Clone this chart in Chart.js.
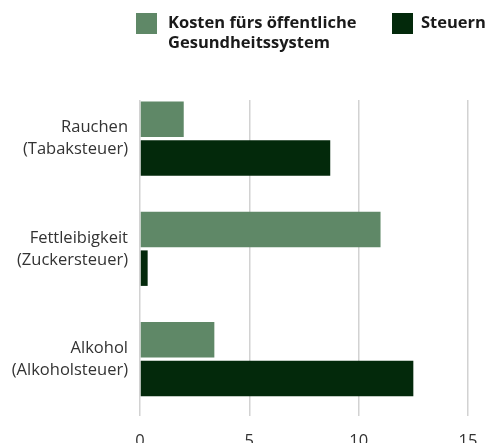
<!DOCTYPE html>
<html>
<head>
<meta charset="utf-8">
<script src="https://cdn.jsdelivr.net/npm/chart.js@4"></script>
<style>
    html, body { margin: 0; padding: 0; overflow: hidden; background: #fff; }
    #wrap { width: 486px; height: 460px; }
</style>
</head>
<body>
<div id="wrap"><canvas id="chart"></canvas></div>
<script>
// data
var categories = [["Rauchen", "(Tabaksteuer)"], ["Fettleibigkeit", "(Zuckersteuer)"], ["Alkohol", "(Alkoholsteuer)"]];
var seriesNames = [["Kosten fürs öffentliche", "Gesundheitssystem"], ["Steuern"]];
var kosten = [2.0, 11.0, 3.4];
var steuern = [8.7, 0.35, 12.5];
var xTicks = [0, 5, 10, 15];

const COLOR_KOSTEN = "#5f8867";
const COLOR_STEUERN = "#03290b";
const LEGEND_BOX_X = [136, 392];
const LEGEND_TEXT_X = [168, 421];
const LEGEND_BOX = 21;

// legend drawn by hand, the built-in one can't do a two line label next to a second item
var legendPlugin = {
    id: "twoLineLegend",
    afterDraw: function (chart) {
        var ctx = chart.ctx;
        ctx.save();
        ctx.font = "bold 16.5px 'Open Sans'";
        ctx.textAlign = "left";
        ctx.textBaseline = "middle";
        chart.data.datasets.forEach(function (ds, i) {
            ctx.fillStyle = ds.backgroundColor;
            ctx.fillRect(LEGEND_BOX_X[i], 13, LEGEND_BOX, LEGEND_BOX);
            ctx.fillStyle = "#1a1a1a";
            var lines = ds.label;
            for (var j = 0; j < lines.length; j++) {
                ctx.fillText(lines[j], LEGEND_TEXT_X[i], 13 + LEGEND_BOX / 2 + j * 19.5);
            }
        });
        ctx.restore();
    }
};

var ctx = document.getElementById("chart").getContext("2d");
var myChart = new Chart(ctx, {
    type: "bar",
    data: {
        labels: categories,
        datasets: [{
            label: seriesNames[0],
            data: kosten,
            backgroundColor: COLOR_KOSTEN
        }, {
            label: seriesNames[1],
            data: steuern,
            backgroundColor: COLOR_STEUERN
        }]
    },
    options: {
        indexAxis: "y",
        responsive: true,
        maintainAspectRatio: false,
        animation: false,
        categoryPercentage: 0.7,
        barPercentage: 0.92,
        layout: { padding: { top: 100, right: 18, left: 0, bottom: 0 } },
        plugins: {
            tooltip: { enabled: false },
            legend: { display: false }
        },
        scales: {
            x: {
                min: 0,
                max: 15,
                afterBuildTicks: function (scale) {
                    scale.ticks = xTicks.map(function (v) { return { value: v }; });
                },
                afterFit: function (scale) {
                    scale.height = 44;
                    scale.paddingLeft = 0;
                    scale.paddingRight = 0;
                },
                border: { display: false },
                grid: { color: "#d2d2d2", lineWidth: 1.5, drawTicks: false },
                ticks: {
                    padding: 15,
                    color: "#333",
                    font: { family: "'Open Sans'", size: 16.5 }
                }
            },
            y: {
                afterBuildTicks: function (scale) {
                    // place the category bands like the reference
                    scale._startValue = -0.35;
                    scale._valueRange = 2.866;
                },
                afterFit: function (scale) { scale.width = 140; },
                border: { display: false },
                grid: { display: false, drawTicks: false },
                ticks: {
                    padding: 12,
                    color: "#333",
                    font: { family: "'Open Sans'", size: 16.5, lineHeight: 1.33 }
                }
            }
        }
    },
    plugins: [legendPlugin]
});
</script>
</body>
</html>
